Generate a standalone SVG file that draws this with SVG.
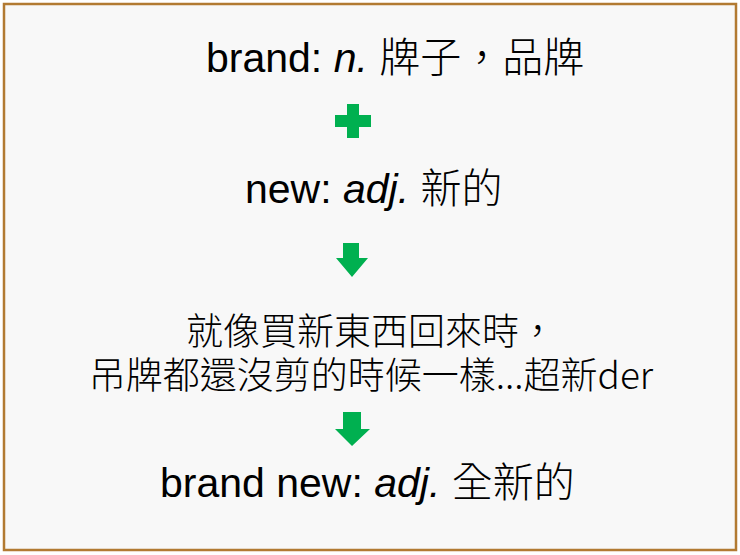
<svg xmlns="http://www.w3.org/2000/svg" width="740" height="555" viewBox="0 0 740 555">
<style>
.t{font-family:"Liberation Sans","Noto Sans CJK TC",sans-serif;font-size:41px;fill:#000}
.k{font-family:"Noto Sans CJK TC",sans-serif;font-weight:300}
.c{font-family:"Noto Sans CJK TC",sans-serif;font-weight:300;font-size:37px;fill:#000;text-anchor:middle}
.g{fill:#00b050}
</style>
<rect x="0" y="0" width="740" height="555" fill="#ffffff"/>
<rect id="frame" x="4" y="4" width="732" height="546" fill="#f8f8f8" stroke="#b27a32" stroke-width="2.5"/>
<g id="node-brand"><text class="t" x="206" y="72">brand: <tspan font-style="italic">n.</tspan> <tspan class="k">牌子，品牌</tspan></text></g>
<g id="node-new"><text class="t" x="245" y="203">new: <tspan font-style="italic">adj.</tspan> <tspan class="k">新的</tspan></text></g>
<g id="node-explain"><text class="c" x="371" y="345">就像買新東西回來時，</text><text class="c" x="371" y="389">吊牌都還沒剪的時候一樣...超新der</text></g>
<g id="node-brandnew"><text class="t" x="160" y="497" font-size="41.5">brand new: <tspan font-style="italic">adj.</tspan> <tspan class="k">全新的</tspan></text></g>
<g id="connectors">
<path class="g" d="M347,104 H359 V115 H371 V127 H359 V138 H347 V127 H335 V115 H347 Z"/>
<path class="g" d="M343,243 H359 V258 H368 L352,277 L336,258 H343 Z"/>
<path class="g" d="M343,412 H361 V429 H370 L352,446 L335,429 H343 Z"/>
</g>
</svg>
